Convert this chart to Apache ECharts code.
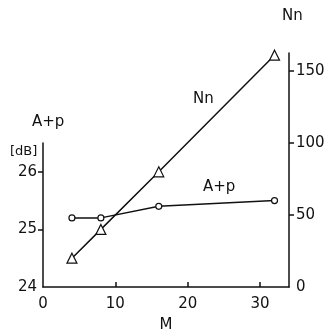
<!DOCTYPE html>
<html>
<head>
<meta charset="utf-8">
<script src="https://cdn.jsdelivr.net/npm/echarts@6/dist/echarts.min.js"></script>
<style>
  html, body { margin: 0; padding: 0; background: #fff; }
  #chart { width: 333px; height: 336px; }
</style>
</head>
<body>
<div id="chart"></div>
<script>
// M values (x axis)
var mValues = [4, 8, 16, 32];
// A+p in dB (left axis)
var apValues = [25.2, 25.2, 25.4, 25.5];
// Nn (right axis)
var nnValues = [20, 40, 80, 161];

var xTicks = [0, 10, 20, 30];
var leftTicks = [24, 25, 26];
var rightTicks = [0, 50, 100, 150];

var font = 'DejaVu Sans';
var ink = '#111';

function pairs(xs, ys) {
    var out = [];
    for (var i = 0; i < xs.length; i++) {
        out.push([xs[i], ys[i]]);
    }
    return out;
}

var myChart = echarts.init(document.getElementById('chart'));
var option = {
    animation: false,
    backgroundColor: '#fff',
    textStyle: { fontFamily: font, color: ink },
    // two grids share the x range, the left (dB) axis is shorter than the right one
    grid: [
        { left: 43, right: 44, top: 143, bottom: 49 },
        { left: 43, right: 44, top: 53, bottom: 49 }
    ],
    xAxis: [
        {
            gridIndex: 0,
            type: 'value',
            min: 0,
            max: 34,
            splitLine: { show: false },
            axisLine: { onZero: false, lineStyle: { color: ink, width: 1.5 } },
            axisTick: {
                inside: true,
                length: 5,
                customValues: [10, 20, 30],
                lineStyle: { color: ink, width: 1.5 }
            },
            axisLabel: {
                customValues: xTicks,
                margin: 10,
                fontSize: 15,
                color: ink,
                fontFamily: font
            },
            name: 'M',
            nameLocation: 'middle',
            nameGap: 31,
            nameTextStyle: { fontSize: 15, color: ink, fontFamily: font }
        },
        {
            gridIndex: 1,
            type: 'value',
            min: 0,
            max: 34,
            show: false
        }
    ],
    yAxis: [
        {
            gridIndex: 0,
            type: 'value',
            position: 'left',
            min: 24,
            max: 26.5,
            splitLine: { show: false },
            axisLine: { show: true, onZero: false, lineStyle: { color: ink, width: 1.5 } },
            axisTick: {
                show: true,
                length: 5,
                customValues: [25, 26],
                lineStyle: { color: ink, width: 1.5 }
            },
            axisLabel: {
                customValues: leftTicks,
                margin: 6,
                fontSize: 15,
                color: ink,
                fontFamily: font
            }
        },
        {
            gridIndex: 1,
            type: 'value',
            position: 'right',
            min: 0,
            max: 162.5,
            splitLine: { show: false },
            axisLine: { show: true, onZero: false, lineStyle: { color: ink, width: 1.5 } },
            axisTick: {
                show: true,
                length: 5,
                customValues: [50, 100, 150],
                lineStyle: { color: ink, width: 1.5 }
            },
            axisLabel: {
                customValues: rightTicks,
                margin: 7,
                fontSize: 15,
                color: ink,
                fontFamily: font
            }
        }
    ],
    graphic: [
        { type: 'text', left: 282, top: 9, style: { text: 'Nn', font: '15px ' + font, fill: ink } },
        { type: 'text', left: 193, top: 92, style: { text: 'Nn', font: '15px ' + font, fill: ink } },
        { type: 'text', left: 203, top: 180, style: { text: 'A+p', font: '15px ' + font, fill: ink } },
        { type: 'text', left: 32, top: 115, style: { text: 'A+p', font: '15px ' + font, fill: ink } },
        { type: 'text', left: 10, top: 145, style: { text: '[dB]', font: '13px ' + font, fill: ink } }
    ],
    series: [
        {
            name: 'A+p',
            type: 'line',
            xAxisIndex: 0,
            yAxisIndex: 0,
            data: pairs(mValues, apValues),
            symbol: 'circle',
            symbolSize: 6,
            lineStyle: { color: ink, width: 1.5 },
            itemStyle: { color: '#fff', borderColor: ink, borderWidth: 1.2 }
        },
        {
            name: 'Nn',
            type: 'line',
            xAxisIndex: 1,
            yAxisIndex: 1,
            data: pairs(mValues, nnValues),
            symbol: 'triangle',
            symbolSize: 10,
            lineStyle: { color: ink, width: 1.5 },
            itemStyle: { color: '#fff', borderColor: ink, borderWidth: 1.2 }
        }
    ]
};
myChart.setOption(option);
</script>
</body>
</html>
